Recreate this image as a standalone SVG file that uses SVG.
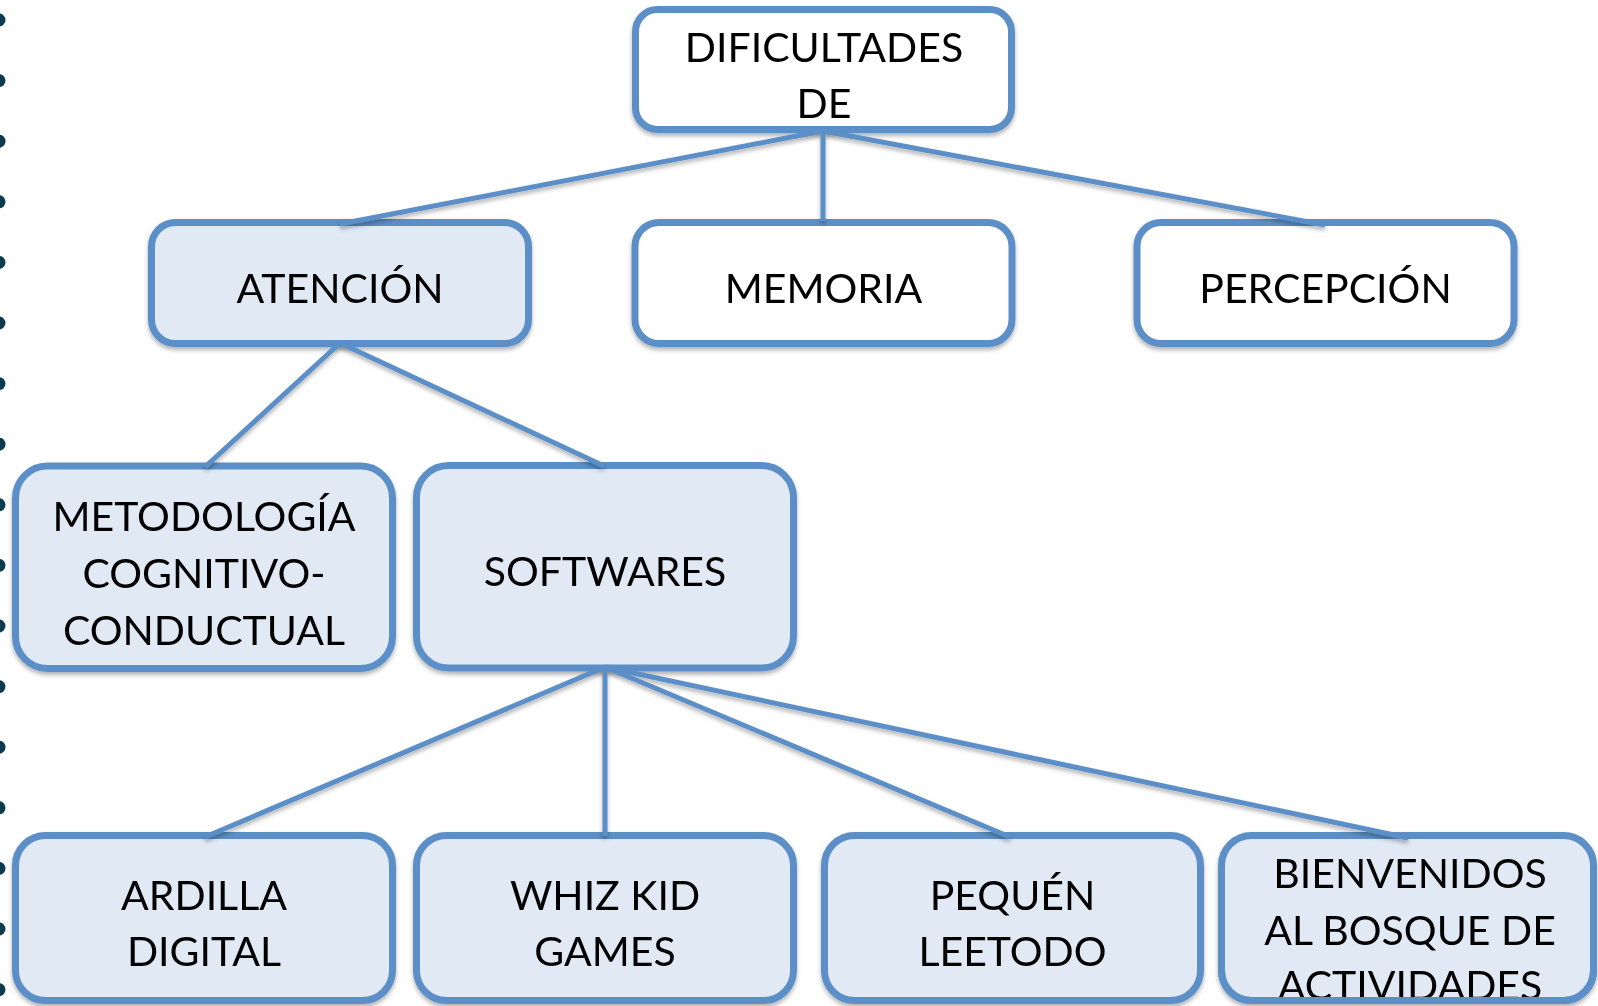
<svg xmlns="http://www.w3.org/2000/svg" width="1598" height="1006" viewBox="0 0 1598 1006">
<defs>
<filter id="sh" x="-10%" y="-10%" width="120%" height="130%">
<feDropShadow dx="0" dy="3" stdDeviation="2.2" flood-color="#000" flood-opacity="0.3"/>
</filter>
<style>
.box{stroke:#5b8fc7;stroke-width:7;}
.w{fill:#ffffff;}
.b{fill:#e1e9f4;}
.t{font-family:Lato,"Liberation Sans",sans-serif;font-size:41px;fill:#000;text-anchor:middle;}
.c{stroke:#5b8fc7;stroke-width:5;fill:none;}
.dot{fill:#0c3a4f;}
</style>
</defs>
<rect width="1598" height="1006" fill="#ffffff"/>
<g id="dots">
<circle class="dot" cx="-1" cy="20" r="6.5"/>
<circle class="dot" cx="-1" cy="80.6" r="6.5"/>
<circle class="dot" cx="-1" cy="141.2" r="6.5"/>
<circle class="dot" cx="-1" cy="201.8" r="6.5"/>
<circle class="dot" cx="-1" cy="262.4" r="6.5"/>
<circle class="dot" cx="-1" cy="323" r="6.5"/>
<circle class="dot" cx="-1" cy="383.6" r="6.5"/>
<circle class="dot" cx="-1" cy="444.2" r="6.5"/>
<circle class="dot" cx="-1" cy="504.8" r="6.5"/>
<circle class="dot" cx="-1" cy="565.4" r="6.5"/>
<circle class="dot" cx="-1" cy="626" r="6.5"/>
<circle class="dot" cx="-1" cy="686.6" r="6.5"/>
<circle class="dot" cx="-1" cy="747.2" r="6.5"/>
<circle class="dot" cx="-1" cy="807.8" r="6.5"/>
<circle class="dot" cx="-1" cy="868.4" r="6.5"/>
<circle class="dot" cx="-1" cy="929" r="6.5"/>
<circle class="dot" cx="-1" cy="989.6" r="6.5"/>
</g>
<g id="n-dificultades" filter="url(#sh)">
<rect class="box w" x="635.5" y="9.5" width="376" height="120" rx="22"/>
<text class="t" x="824" y="62">DIFICULTADES</text>
<text class="t" x="824" y="118">DE</text>
</g>
<g id="n-atencion" filter="url(#sh)">
<rect class="box b" x="151.5" y="222.5" width="377" height="121" rx="24"/>
<text class="t" x="340" y="303">ATENCIÓN</text>
</g>
<g id="n-memoria" filter="url(#sh)">
<rect class="box w" x="635" y="222.5" width="377" height="121" rx="24"/>
<text class="t" x="823.5" y="303">MEMORIA</text>
</g>
<g id="n-percepcion" filter="url(#sh)">
<rect class="box w" x="1137" y="222.5" width="377" height="121" rx="24"/>
<text class="t" x="1325.5" y="303">PERCEPCIÓN</text>
</g>
<g id="n-metodologia" filter="url(#sh)">
<rect class="box b" x="15.5" y="466" width="377" height="202.5" rx="32"/>
<text class="t" x="204" y="531">METODOLOGÍA</text>
<text class="t" x="204" y="588">COGNITIVO-</text>
<text class="t" x="204" y="645">CONDUCTUAL</text>
</g>
<g id="n-softwares" filter="url(#sh)">
<rect class="box b" x="416.5" y="465.5" width="377" height="202.5" rx="32"/>
<text class="t" x="605" y="586">SOFTWARES</text>
</g>
<g id="n-ardilla" filter="url(#sh)">
<rect class="box b" x="15.5" y="835.5" width="377" height="165" rx="30"/>
<text class="t" x="204" y="910">ARDILLA</text>
<text class="t" x="204" y="966">DIGITAL</text>
</g>
<g id="n-whiz" filter="url(#sh)">
<rect class="box b" x="416.5" y="835.5" width="377" height="165" rx="30"/>
<text class="t" x="605" y="910">WHIZ KID</text>
<text class="t" x="605" y="966">GAMES</text>
</g>
<g id="n-pequen" filter="url(#sh)">
<rect class="box b" x="824.5" y="835.5" width="376" height="165" rx="30"/>
<text class="t" x="1012.5" y="910">PEQUÉN</text>
<text class="t" x="1012.5" y="966">LEETODO</text>
</g>
<g id="n-bienvenidos" filter="url(#sh)">
<rect class="box b" x="1221.5" y="835.5" width="372" height="165" rx="30"/>
<text class="t" x="1410" y="888">BIENVENIDOS</text>
<text class="t" x="1410" y="945">AL BOSQUE DE</text>
<text class="t" x="1410" y="1000">ACTIVIDADES</text>
<path class="box" fill="none" d="M1221.5,970 V970.5 A30,30 0 0 0 1251.5,1000.5 H1563.5 A30,30 0 0 0 1593.5,970.5"/>
</g>
<g id="connectors" filter="url(#sh)">
<line class="c" x1="823" y1="131" x2="340" y2="224"/>
<line class="c" x1="823" y1="131" x2="823" y2="221"/>
<line class="c" x1="823" y1="131" x2="1325" y2="225"/>
<line class="c" x1="340" y1="343" x2="205" y2="467"/>
<line class="c" x1="340" y1="343" x2="604" y2="466"/>
<line class="c" x1="605" y1="667" x2="205" y2="837"/>
<line class="c" x1="605" y1="667" x2="605" y2="836"/>
<line class="c" x1="605" y1="667" x2="1010" y2="837"/>
<line class="c" x1="605" y1="667" x2="1408" y2="838"/>
</g>
</svg>
